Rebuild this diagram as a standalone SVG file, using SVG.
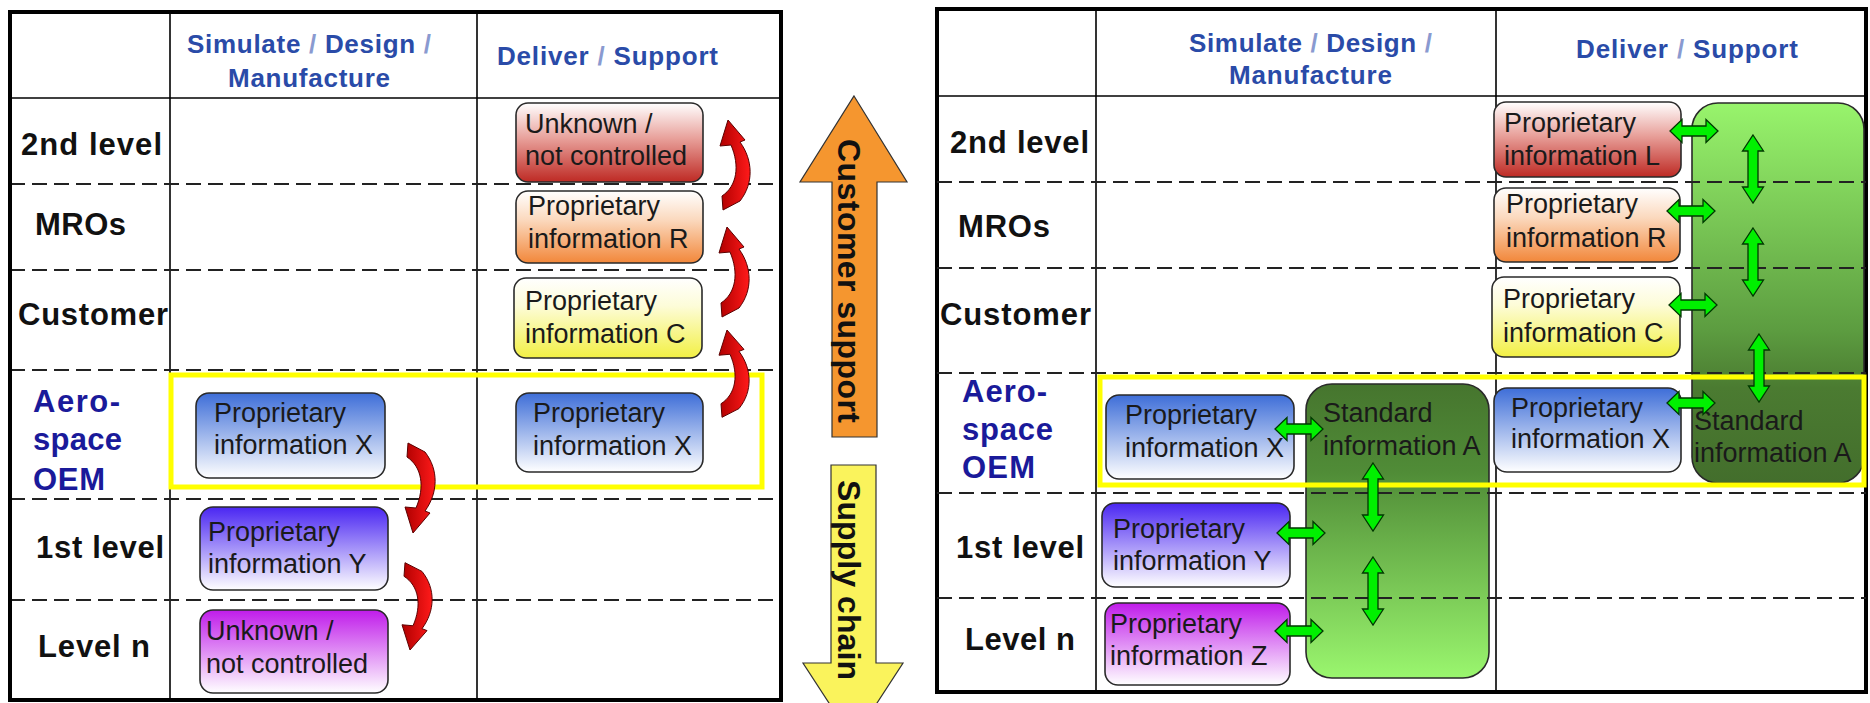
<svg xmlns="http://www.w3.org/2000/svg" width="1870" height="703" viewBox="0 0 1870 703">
<defs>
<style>
.frame{fill:none;stroke:#000;stroke-width:4}
.sol{stroke:#000;stroke-width:1.6;fill:none}
.dash{stroke:#222;stroke-width:2;stroke-dasharray:15 7;fill:none}
.hdr{font-family:"Liberation Sans",Arial,sans-serif;font-weight:bold;font-size:26px;fill:#2A4BA8}
.sl{fill:#8A9AD0}
.row{font-family:"Liberation Sans",Arial,sans-serif;font-weight:bold;font-size:31px;fill:#111}
.oem{font-family:"Liberation Sans",Arial,sans-serif;font-weight:bold;font-size:31px;fill:#1A1A9A}
.box{stroke:#2a2a2a;stroke-width:1.6}
.bt{font-family:"Liberation Sans",Arial,sans-serif;font-size:27px;fill:#1a1a1a}
.hl{fill:none;stroke:#FFFF00;stroke-width:5}
.red{fill:url(#gRedArrow);stroke:#5a0000;stroke-width:1}
.grn{fill:#00F000;stroke:#003800;stroke-width:1.3}
.big{font-family:"Liberation Sans",Arial,sans-serif;font-weight:bold;font-size:32px;fill:#111}
.barrow{stroke:#333;stroke-width:1.2}
</style>
<linearGradient id="gRed" x1="0" y1="0" x2="0" y2="1"><stop offset="0" stop-color="#FFFFFF"/><stop offset="0.45" stop-color="#E8A09A"/><stop offset="1" stop-color="#BE2A24"/></linearGradient>
<linearGradient id="gOrange" x1="0" y1="0" x2="0" y2="1"><stop offset="0" stop-color="#FFFFFF"/><stop offset="0.4" stop-color="#FBD9BE"/><stop offset="1" stop-color="#F2873A"/></linearGradient>
<linearGradient id="gYellow" x1="0" y1="0" x2="0" y2="1"><stop offset="0" stop-color="#FFFFFF"/><stop offset="0.35" stop-color="#FDFCD8"/><stop offset="1" stop-color="#F2F044"/></linearGradient>
<linearGradient id="gBlue" x1="0" y1="0" x2="0" y2="1"><stop offset="0" stop-color="#3E6ED8"/><stop offset="1" stop-color="#FFFFFF"/></linearGradient>
<linearGradient id="gPurple" x1="0" y1="0" x2="0" y2="1"><stop offset="0" stop-color="#4A26F2"/><stop offset="1" stop-color="#FFFFFF"/></linearGradient>
<linearGradient id="gMagenta" x1="0" y1="0" x2="0" y2="1"><stop offset="0" stop-color="#C01CEA"/><stop offset="1" stop-color="#FFFFFF"/></linearGradient>
<linearGradient id="gGreenDown" x1="0" y1="0" x2="0" y2="1"><stop offset="0" stop-color="#98F46C"/><stop offset="0.6" stop-color="#5C9C40"/><stop offset="0.75" stop-color="#4B7B31"/><stop offset="1" stop-color="#436E2C"/></linearGradient>
<linearGradient id="gGreenUp" x1="0" y1="0" x2="0" y2="1"><stop offset="0" stop-color="#46752E"/><stop offset="0.3" stop-color="#508C37"/><stop offset="1" stop-color="#9AF66E"/></linearGradient>
<linearGradient id="gRedArrow" x1="0" y1="0" x2="1" y2="0"><stop offset="0" stop-color="#B00000"/><stop offset="1" stop-color="#FF1A1A"/></linearGradient>
<path id="curl" d="M 8 0 L 25 20 L 20 22 C 33 40, 34 63, 20 81 L 3 90 L 2 76 C 17 66, 20 46, 11 25 L 0 26 Z"/>
<path id="dh" d="M -24 0 L -12 -11.5 L -12 -5 L 12 -5 L 12 -11.5 L 24 0 L 12 11.5 L 12 5 L -12 5 L -12 11.5 Z"/>
<path id="dv" d="M 0 -34 L 10.5 -18 L 5 -18 L 5 18 L 10.5 18 L 0 34 L -10.5 18 L -5 18 L -5 -18 L -10.5 -18 Z"/>
</defs>
<rect width="1870" height="703" fill="#fff"/>

<!-- LEFT TABLE -->
<g id="table-left">
<line class="sol" x1="170" y1="12" x2="170" y2="700"/>
<line class="sol" x1="477" y1="12" x2="477" y2="700"/>
<line class="sol" x1="10" y1="98" x2="781" y2="98" stroke-width="2"/>
<g class="dash">
<line x1="10" y1="184" x2="781" y2="184"/>
<line x1="10" y1="270" x2="781" y2="270"/>
<line x1="10" y1="370" x2="781" y2="370"/>
<line x1="10" y1="499" x2="781" y2="499"/>
<line x1="10" y1="600" x2="781" y2="600"/>
</g>
<rect class="frame" x="10" y="12" width="771" height="688"/>
<text class="hdr" x="187" y="53" textLength="244">Simulate <tspan class="sl">/</tspan> Design <tspan class="sl">/</tspan></text>
<text class="hdr" x="228" y="87" textLength="162">Manufacture</text>
<text class="hdr" x="497" y="65" textLength="221">Deliver <tspan class="sl">/</tspan> Support</text>
<text class="row" x="21" y="155" textLength="141">2nd level</text>
<text class="row" x="35" y="235" textLength="91">MROs</text>
<text class="row" x="18" y="325" textLength="150">Customer</text>
<text class="oem" x="33" y="412" textLength="87">Aero-</text>
<text class="oem" x="33" y="450" textLength="89">space</text>
<text class="oem" x="33" y="490" textLength="72">OEM</text>
<text class="row" x="36" y="558" textLength="128">1st level</text>
<text class="row" x="38" y="657" textLength="112">Level n</text>
</g>

<!-- RIGHT TABLE -->
<g id="table-right">
<line class="sol" x1="1096" y1="9" x2="1096" y2="692"/>
<line class="sol" x1="1496" y1="9" x2="1496" y2="692"/>
<line class="sol" x1="937" y1="96" x2="1866" y2="96" stroke-width="2"/>
<rect class="frame" x="937" y="9" width="929" height="683" stroke-width="3.5"/>
<text class="hdr" x="1189" y="52" textLength="243">Simulate <tspan class="sl">/</tspan> Design <tspan class="sl">/</tspan></text>
<text class="hdr" x="1229" y="84" textLength="163">Manufacture</text>
<text class="hdr" x="1576" y="58" textLength="222">Deliver <tspan class="sl">/</tspan> Support</text>
<text class="row" x="950" y="153" textLength="139">2nd level</text>
<text class="row" x="958" y="237" textLength="92">MROs</text>
<text class="row" x="940" y="325" textLength="151">Customer</text>
<text class="oem" x="962" y="402" textLength="85">Aero-</text>
<text class="oem" x="962" y="440" textLength="91">space</text>
<text class="oem" x="962" y="478" textLength="73">OEM</text>
<text class="row" x="956" y="558" textLength="128">1st level</text>
<text class="row" x="965" y="650" textLength="110">Level n</text>
</g>

<!-- green standard nodes -->
<g id="std-a-support">
<rect x="1692" y="103" width="172" height="380" rx="26" fill="url(#gGreenDown)" class="box"/>
<text class="bt" x="1694" y="430" fill="#102010">Standard</text>
<text class="bt" x="1694" y="462" fill="#102010">information A</text>
</g>
<g id="std-a-design">
<rect x="1306" y="384" width="183" height="294" rx="26" fill="url(#gGreenUp)" class="box"/>
<text class="bt" x="1323" y="422" fill="#102010">Standard</text>
<text class="bt" x="1323" y="455" fill="#102010">information A</text>
</g>

<g id="table-right-dashes" class="dash">
<line x1="937" y1="182" x2="1866" y2="182"/>
<line x1="937" y1="268" x2="1866" y2="268"/>
<line x1="937" y1="373" x2="1866" y2="373"/>
<line x1="937" y1="493" x2="1866" y2="493"/>
<line x1="937" y1="598" x2="1866" y2="598"/>
</g>

<!-- OEM highlight frames -->
<g id="oem-highlight-left"><rect class="hl" x="171" y="375" width="591" height="112"/></g>
<g id="oem-highlight-right"><rect class="hl" x="1100" y="377" width="764" height="108"/></g>

<!-- LEFT TABLE NODES -->
<g id="l-unknown-2nd">
<rect class="box" x="516" y="103" width="187" height="79" rx="12" fill="url(#gRed)"/>
<text class="bt" x="525" y="133">Unknown /</text>
<text class="bt" x="525" y="165">not controlled</text>
</g>
<g id="l-prop-r">
<rect class="box" x="516" y="191" width="187" height="72" rx="12" fill="url(#gOrange)"/>
<text class="bt" x="528" y="215">Proprietary</text>
<text class="bt" x="528" y="248">information R</text>
</g>
<g id="l-prop-c">
<rect class="box" x="514" y="278" width="188" height="80" rx="12" fill="url(#gYellow)"/>
<text class="bt" x="525" y="310">Proprietary</text>
<text class="bt" x="525" y="343">information C</text>
</g>
<g id="l-prop-x-design">
<rect class="box" x="196" y="393" width="189" height="85" rx="13" fill="url(#gBlue)"/>
<text class="bt" x="214" y="422">Proprietary</text>
<text class="bt" x="214" y="454">information X</text>
</g>
<g id="l-prop-x-support">
<rect class="box" x="516" y="393" width="187" height="79" rx="13" fill="url(#gBlue)"/>
<text class="bt" x="533" y="422">Proprietary</text>
<text class="bt" x="533" y="455">information X</text>
</g>
<g id="l-prop-y">
<rect class="box" x="200" y="507" width="188" height="83" rx="13" fill="url(#gPurple)"/>
<text class="bt" x="208" y="541">Proprietary</text>
<text class="bt" x="208" y="573">information Y</text>
</g>
<g id="l-unknown-n">
<rect class="box" x="200" y="610" width="188" height="83" rx="13" fill="url(#gMagenta)"/>
<text class="bt" x="206" y="640">Unknown /</text>
<text class="bt" x="206" y="673">not controlled</text>
</g>

<!-- RIGHT TABLE NODES -->
<g id="r-prop-l">
<rect class="box" x="1494" y="102" width="187" height="75" rx="12" fill="url(#gRed)"/>
<text class="bt" x="1504" y="132">Proprietary</text>
<text class="bt" x="1504" y="165">information L</text>
</g>
<g id="r-prop-r">
<rect class="box" x="1494" y="188" width="186" height="74" rx="12" fill="url(#gOrange)"/>
<text class="bt" x="1506" y="213">Proprietary</text>
<text class="bt" x="1506" y="247">information R</text>
</g>
<g id="r-prop-c">
<rect class="box" x="1492" y="277" width="188" height="80" rx="12" fill="url(#gYellow)"/>
<text class="bt" x="1503" y="308">Proprietary</text>
<text class="bt" x="1503" y="342">information C</text>
</g>
<g id="r-prop-x-support">
<rect class="box" x="1494" y="388" width="187" height="84" rx="13" fill="url(#gBlue)"/>
<text class="bt" x="1511" y="417">Proprietary</text>
<text class="bt" x="1511" y="448">information X</text>
</g>
<g id="r-prop-x-design">
<rect class="box" x="1106" y="395" width="188" height="84" rx="13" fill="url(#gBlue)"/>
<text class="bt" x="1125" y="424">Proprietary</text>
<text class="bt" x="1125" y="457">information X</text>
</g>
<g id="r-prop-y">
<rect class="box" x="1102" y="503" width="188" height="84" rx="13" fill="url(#gPurple)"/>
<text class="bt" x="1113" y="538">Proprietary</text>
<text class="bt" x="1113" y="570">information Y</text>
</g>
<g id="r-prop-z">
<rect class="box" x="1105" y="603" width="185" height="82" rx="13" fill="url(#gMagenta)"/>
<text class="bt" x="1110" y="633">Proprietary</text>
<text class="bt" x="1110" y="665">information Z</text>
</g>

<!-- CONNECTORS -->
<g id="connectors">
<use href="#curl" class="red" transform="translate(720,120)"/>
<use href="#curl" class="red" transform="translate(719,227)"/>
<use href="#curl" class="red" transform="translate(719,330) scale(1,0.97)"/>
<use href="#curl" class="red" transform="translate(405,533) scale(1,-1)"/>
<use href="#curl" class="red" transform="translate(402,650) scale(1,-0.97)"/>
<use href="#dh" class="grn" transform="translate(1694,131)"/>
<use href="#dh" class="grn" transform="translate(1691,211)"/>
<use href="#dh" class="grn" transform="translate(1693,305)"/>
<use href="#dh" class="grn" transform="translate(1691,403)"/>
<use href="#dh" class="grn" transform="translate(1299,429)"/>
<use href="#dh" class="grn" transform="translate(1301,533)"/>
<use href="#dh" class="grn" transform="translate(1299,631)"/>
<use href="#dv" class="grn" transform="translate(1753,169)"/>
<use href="#dv" class="grn" transform="translate(1753,262)"/>
<use href="#dv" class="grn" transform="translate(1759,368)"/>
<use href="#dv" class="grn" transform="translate(1373,497)"/>
<use href="#dv" class="grn" transform="translate(1373,591)"/>
</g>

<!-- DIRECTION ARROWS -->
<g id="customer-support">
<path class="barrow" d="M 854 96 L 907 182 L 877 182 L 877 437 L 832 437 L 832 182 L 800 182 Z" fill="#F5962F"/>
<text class="big" x="281" y="-838" transform="rotate(90)" text-anchor="middle" textLength="284">Customer support</text>
</g>
<g id="supply-chain">
<path class="barrow" d="M 831 465 L 876 465 L 876 663 L 903 663 L 853 740 L 803 663 L 831 663 Z" fill="#FAF35C"/>
<text class="big" x="580" y="-838" transform="rotate(90)" text-anchor="middle" textLength="200">Supply chain</text>
</g>
</svg>
